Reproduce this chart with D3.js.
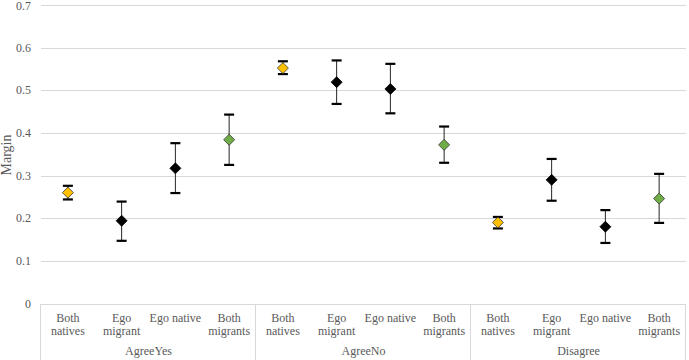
<!DOCTYPE html>
<html>
<head>
<meta charset="utf-8">
<script src="https://cdn.jsdelivr.net/npm/d3@7"></script>
<style>
  html, body { margin: 0; padding: 0; background: #fff; }
  svg { display: block; }
</style>
</head>
<body>
<div id="chart"></div>
<script>
// Data
const groups = ["AgreeYes", "AgreeNo", "Disagree"];
const subLabels = [["Both", "natives"], ["Ego", "migrant"], ["Ego native"], ["Both", "migrants"]];
const margins = [0.260, 0.194, 0.317, 0.384, 0.552, 0.519, 0.503, 0.372, 0.190, 0.290, 0.180, 0.246];
const lowers  = [0.244, 0.147, 0.259, 0.325, 0.538, 0.468, 0.446, 0.330, 0.176, 0.241, 0.142, 0.189];
const uppers  = [0.276, 0.239, 0.376, 0.443, 0.568, 0.570, 0.562, 0.415, 0.203, 0.339, 0.219, 0.304];
const yTicks = [0, 0.1, 0.2, 0.3, 0.4, 0.5, 0.6, 0.7];

const width = 689, height = 360;
const plot = { left: 41, right: 686, top: 5, bottom: 303.5 };
const grey = "#595959";
const FONT = "Liberation Serif";

const points = margins.map((m, i) => ({
    key: groups[Math.floor(i / 4)] + "|" + i % 4,
    group: groups[Math.floor(i / 4)],
    sub: i % 4,
    m: m, lo: lowers[i], hi: uppers[i]
}));

const fillFor = { 0: "#ffc000", 1: "#000", 2: "#000", 3: "#70ad47" };

const svg = d3.select("#chart").append("svg")
    .attr("width", width).attr("height", height);

const x = d3.scaleBand().domain(points.map(d => d.key)).range([plot.left, plot.right]);
const y = d3.scaleLinear().domain([0, 0.7]).range([plot.bottom, plot.top]);

// Gridlines
svg.append("g").selectAll("line").data(yTicks).enter().append("line")
    .attr("x1", plot.left).attr("x2", plot.right)
    .attr("y1", d => Math.round(y(d)) + 0.5).attr("y2", d => Math.round(y(d)) + 0.5)
    .attr("stroke", "#d9d9d9").attr("stroke-width", 1);

// Y tick labels
svg.append("g").selectAll("text").data(yTicks).enter().append("text")
    .attr("x", 31).attr("y", d => Math.max(y(d) + 4, 10))
    .attr("text-anchor", "end")
    .style("font-family", FONT).style("font-size", "12px").attr("fill", grey)
    .text(d => d3.format("")(+d.toFixed(1)));

// Y title
svg.append("text")
    .attr("transform", "translate(11, 155) rotate(-90)")
    .attr("text-anchor", "middle")
    .style("font-family", FONT).style("font-size", "14px").attr("fill", grey)
    .text("Margin");

// Category axis box
const groupW = (plot.right - plot.left) / groups.length;
const axisG = svg.append("g");
d3.range(groups.length + 1).forEach(i => {
    const xx = Math.round(plot.left + i * groupW) - 0.5;
    axisG.append("line").attr("x1", xx).attr("x2", xx)
        .attr("y1", Math.round(plot.bottom)).attr("y2", height)
        .attr("stroke", "#d9d9d9").attr("stroke-width", 1);
});

// Sub-category labels (one text per line)
points.forEach(d => {
    subLabels[d.sub].forEach((ln, j) => {
        axisG.append("text")
            .attr("x", x(d.key) + x.bandwidth() / 2).attr("y", 322 + j * 13)
            .attr("text-anchor", "middle")
            .style("font-family", FONT).style("font-size", "12px").attr("fill", grey)
            .text(ln);
    });
});

// Group labels
groups.forEach((g, i) => {
    axisG.append("text")
        .attr("x", plot.left + (i + 0.5) * groupW).attr("y", 355)
        .attr("text-anchor", "middle")
        .style("font-family", FONT).style("font-size", "12px").attr("fill", grey)
        .text(g);
});

// Error bars
const cx = d => x(d.key) + x.bandwidth() / 2;
const bars = svg.append("g").selectAll("g").data(points).enter().append("g");
bars.append("line")
    .attr("x1", cx).attr("x2", cx)
    .attr("y1", d => y(d.hi)).attr("y2", d => y(d.lo))
    .attr("stroke", "#262626").attr("stroke-width", 1);
bars.append("line")
    .attr("x1", d => cx(d) - 5).attr("x2", d => cx(d) + 5)
    .attr("y1", d => y(d.hi)).attr("y2", d => y(d.hi))
    .attr("stroke", "#000").attr("stroke-width", 2.2);
bars.append("line")
    .attr("x1", d => cx(d) - 5).attr("x2", d => cx(d) + 5)
    .attr("y1", d => y(d.lo)).attr("y2", d => y(d.lo))
    .attr("stroke", "#000").attr("stroke-width", 2.2);

// Diamonds
const diamond = r => `M0,${-r}L${r},0L0,${r}L${-r},0Z`;
bars.append("path")
    .attr("transform", d => `translate(${cx(d)},${y(d.m)})`)
    .attr("d", diamond(5.5))
    .attr("fill", d => fillFor[d.sub])
    .attr("stroke", d => d.sub === 0 || d.sub === 3 ? "#333" : "#000")
    .attr("stroke-width", 0.8);
</script>
</body>
</html>
